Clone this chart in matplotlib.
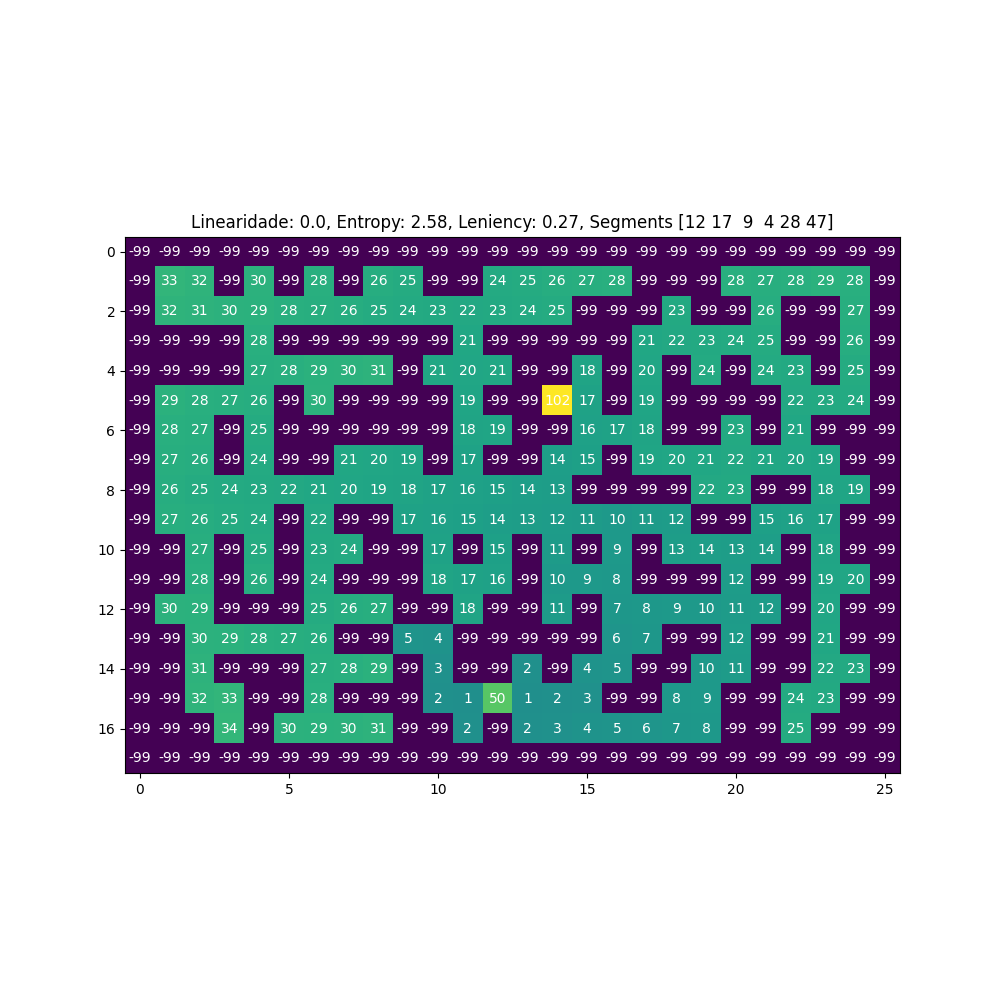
import numpy as np
import matplotlib
matplotlib.use("Agg")
import matplotlib.pyplot as plt

N = -99
row00 = [N]*26
row01 = [N, 33, 32, N, 30, N, 28, N, 26, 25, N, N, 24, 25, 26, 27, 28, N, N, N, 28, 27, 28, 29, 28, N]
row02 = [N, 32, 31, 30, 29, 28, 27, 26, 25, 24, 23, 22, 23, 24, 25, N, N, N, 23, N, N, 26, N, N, 27, N]
row03 = [N, N, N, N, 28, N, N, N, N, N, N, 21, N, N, N, N, N, 21, 22, 23, 24, 25, N, N, 26, N]
row04 = [N, N, N, N, 27, 28, 29, 30, 31, N, 21, 20, 21, N, N, 18, N, 20, N, 24, N, 24, 23, N, 25, N]
row05 = [N, 29, 28, 27, 26, N, 30, N, N, N, N, 19, N, N, 102, 17, N, 19, N, N, N, N, 22, 23, 24, N]
row06 = [N, 28, 27, N, 25, N, N, N, N, N, N, 18, 19, N, N, 16, 17, 18, N, N, 23, N, 21, N, N, N]
row07 = [N, 27, 26, N, 24, N, N, 21, 20, 19, N, 17, N, N, 14, 15, N, 19, 20, 21, 22, 21, 20, 19, N, N]
row08 = [N, 26, 25, 24, 23, 22, 21, 20, 19, 18, 17, 16, 15, 14, 13, N, N, N, N, 22, 23, N, N, 18, 19, N]
row09 = [N, 27, 26, 25, 24, N, 22, N, N, 17, 16, 15, 14, 13, 12, 11, 10, 11, 12, N, N, 15, 16, 17, N, N]
row10 = [N, N, 27, N, 25, N, 23, 24, N, N, 17, N, 15, N, 11, N, 9, N, 13, 14, 13, 14, N, 18, N, N]
row11 = [N, N, 28, N, 26, N, 24, N, N, N, 18, 17, 16, N, 10, 9, 8, N, N, N, 12, N, N, 19, 20, N]
row12 = [N, 30, 29, N, N, N, 25, 26, 27, N, N, 18, N, N, 11, N, 7, 8, 9, 10, 11, 12, N, 20, N, N]
row13 = [N, N, 30, 29, 28, 27, 26, N, N, 5, 4, N, N, N, N, N, 6, 7, N, N, 12, N, N, 21, N, N]
row14 = [N, N, 31, N, N, N, 27, 28, 29, N, 3, N, N, 2, N, 4, 5, N, N, 10, 11, N, N, 22, 23, N]
row15 = [N, N, 32, 33, N, N, 28, N, N, N, 2, 1, 50, 1, 2, 3, N, N, 8, 9, N, N, 24, 23, N, N]
row16 = [N, N, N, 34, N, 30, 29, 30, 31, N, N, 2, N, 2, 3, 4, 5, 6, 7, 8, N, N, 25, N, N, N]
row17 = [N]*26

segments = [12, 17, 9, 4, 28, 47]
linearidade = 0.0
entropy = 2.58
leniency = 0.27

grid = np.array([row00, row01, row02, row03, row04, row05, row06, row07, row08,
                 row09, row10, row11, row12, row13, row14, row15, row16, row17])

fig, ax = plt.subplots(figsize=(10, 10), dpi=100)
ax.imshow(grid, cmap="viridis")
for i in range(grid.shape[0]):
    for j in range(grid.shape[1]):
        ax.text(j, i, str(grid[i, j]), ha="center", va="center", color="w", fontsize=10)
ax.set_title(f"Linearidade: {linearidade}, Entropy: {entropy}, Leniency: {leniency}, Segments {np.array(segments)}")
fig.savefig("out.png")
